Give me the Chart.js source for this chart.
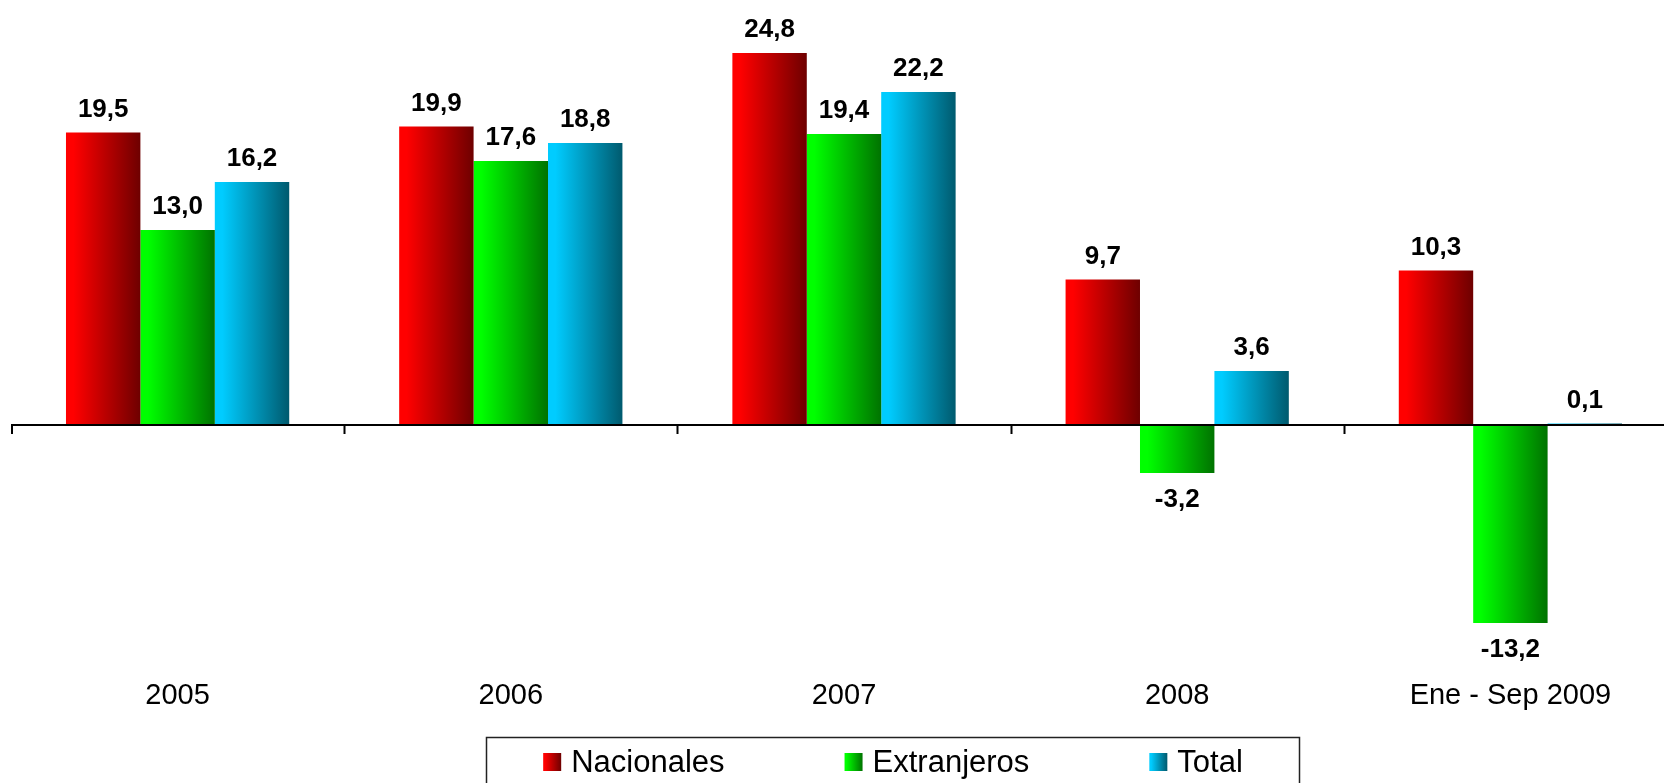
<!DOCTYPE html>
<html>
<head>
<meta charset="utf-8">
<script src="https://cdn.jsdelivr.net/npm/chart.js@4/dist/chart.umd.min.js"></script>
<style>
    body { margin: 0; overflow: hidden; background: #fff; }
    #wrap { width: 1680px; height: 783px; }
</style>
</head>
<body>
<div id="wrap"><canvas id="myChart" width="1680" height="783"></canvas></div>
<script>
const categories = ["2005", "2006", "2007", "2008", "Ene - Sep 2009"];
const nacionales = [19.5, 19.9, 24.8, 9.7, 10.3];
const extranjeros = [13.0, 17.6, 19.4, -3.2, -13.2];
const total = [16.2, 18.8, 22.2, 3.6, 0.1];
const seriesNames = ["Nacionales", "Extranjeros", "Total"];

// light -> dark for each series
const shades = [
    ["#ff0000", "#6e0000"],
    ["#00ff00", "#007300"],
    ["#00ccff", "#005a6e"]
];
const fontFamily = "'Liberation Sans', Arial, sans-serif";

function makeGradient(ctx, x0, x1, i){
    let g = ctx.createLinearGradient(x0, 0, x1, 0);
    g.addColorStop(0, shades[i][0]);
    g.addColorStop(0.1, shades[i][0]);
    g.addColorStop(1, shades[i][1]);
    return g;
}

function fmt(v){
    return v.toFixed(1).replace(".", ",");
}

// gradient fill for each bar
const gradientBars = {
    id: "gradientBars",
    beforeDatasetsDraw(chart){
        const ctx = chart.ctx;
        chart.data.datasets.forEach((ds, i) => {
            chart.getDatasetMeta(i).data.forEach(el => {
                let g = makeGradient(ctx, el.x - el.width/2, el.x + el.width/2, i);
                el.options = Object.assign({}, el.options, {backgroundColor: g});
            });
        });
    }
};

// zero axis line with tick marks between categories
const zeroAxis = {
    id: "zeroAxis",
    afterDatasetsDraw(chart){
        const ctx = chart.ctx;
        const xs = chart.scales.x, ys = chart.scales.y;
        const y0 = ys.getPixelForValue(0);
        const cat = xs.width / categories.length;
        ctx.save();
        ctx.strokeStyle = "#000";
        ctx.lineWidth = 2;
        ctx.beginPath();
        ctx.moveTo(xs.left, y0);
        ctx.lineTo(xs.right, y0);
        for (let i = 0; i <= categories.length; i++){
            let x = Math.round(xs.left + i*cat) + 0.5;
            if (i == 0) x = xs.left + 1;
            ctx.moveTo(x, y0);
            ctx.lineTo(x, y0 + 9);
        }
        ctx.stroke();
        ctx.restore();
    }
};

// value labels above / below the bars
const valueLabels = {
    id: "valueLabels",
    afterDatasetsDraw(chart){
        const ctx = chart.ctx;
        ctx.save();
        ctx.fillStyle = "#000";
        ctx.font = "bold 26px " + fontFamily;
        ctx.textAlign = "center";
        ctx.textBaseline = "alphabetic";
        chart.data.datasets.forEach((ds, i) => {
            chart.getDatasetMeta(i).data.forEach((el, j) => {
                let v = ds.data[j];
                if (v >= 0) ctx.fillText(fmt(v), el.x, el.y - 16);
                else ctx.fillText(fmt(v), el.x, el.y + 34);
            });
        });
        ctx.restore();
    }
};

// boxed legend at the bottom
const boxLegend = {
    id: "boxLegend",
    afterDraw(chart){
        const ctx = chart.ctx;
        ctx.save();
        ctx.strokeStyle = "#222";
        ctx.lineWidth = 1.5;
        ctx.strokeRect(486.5, 737.5, 813, 80);
        ctx.font = "31px " + fontFamily;
        ctx.textBaseline = "alphabetic";
        ctx.fillStyle = "#000";
        const gap = 120, box = 18, space = 10;
        let widths = chart.data.datasets.map(d => box + space + ctx.measureText(d.label).width);
        let full = widths.reduce((a, b) => a + b, 0) + gap*(widths.length - 1);
        let x = 893 - full/2;
        chart.data.datasets.forEach((d, i) => {
            ctx.fillStyle = makeGradient(ctx, x, x + box, i);
            ctx.fillRect(x, 753, box, box);
            ctx.fillStyle = "#000";
            ctx.fillText(d.label, x + box + space, 772);
            x += widths[i] + gap;
        });
        ctx.restore();
    }
};

const ctx = document.getElementById("myChart").getContext("2d");
const myChart = new Chart(ctx, {
    type: "bar",
    data: {
        labels: categories,
        datasets: [
            {label: seriesNames[0], data: nacionales, backgroundColor: shades[0][0]},
            {label: seriesNames[1], data: extranjeros, backgroundColor: shades[1][0]},
            {label: seriesNames[2], data: total, backgroundColor: shades[2][0]}
        ]
    },
    options: {
        responsive: false,
        animation: false,
        events: [],
        categoryPercentage: 0.67,
        barPercentage: 1.0,
        layout: {padding: {left: 11, right: 3, top: 5, bottom: 0}},
        plugins: {
            legend: {display: false},
            tooltip: {enabled: false}
        },
        scales: {
            x: {
                grid: {display: false},
                border: {display: false},
                ticks: {
                    color: "#000",
                    padding: 36,
                    font: {family: fontFamily, size: 29}
                },
                afterFit: function(s){ s.height = 148; }
            },
            y: {
                display: false,
                min: -14,
                max: 28
            }
        }
    },
    plugins: [gradientBars, zeroAxis, valueLabels, boxLegend]
});
</script>
</body>
</html>
